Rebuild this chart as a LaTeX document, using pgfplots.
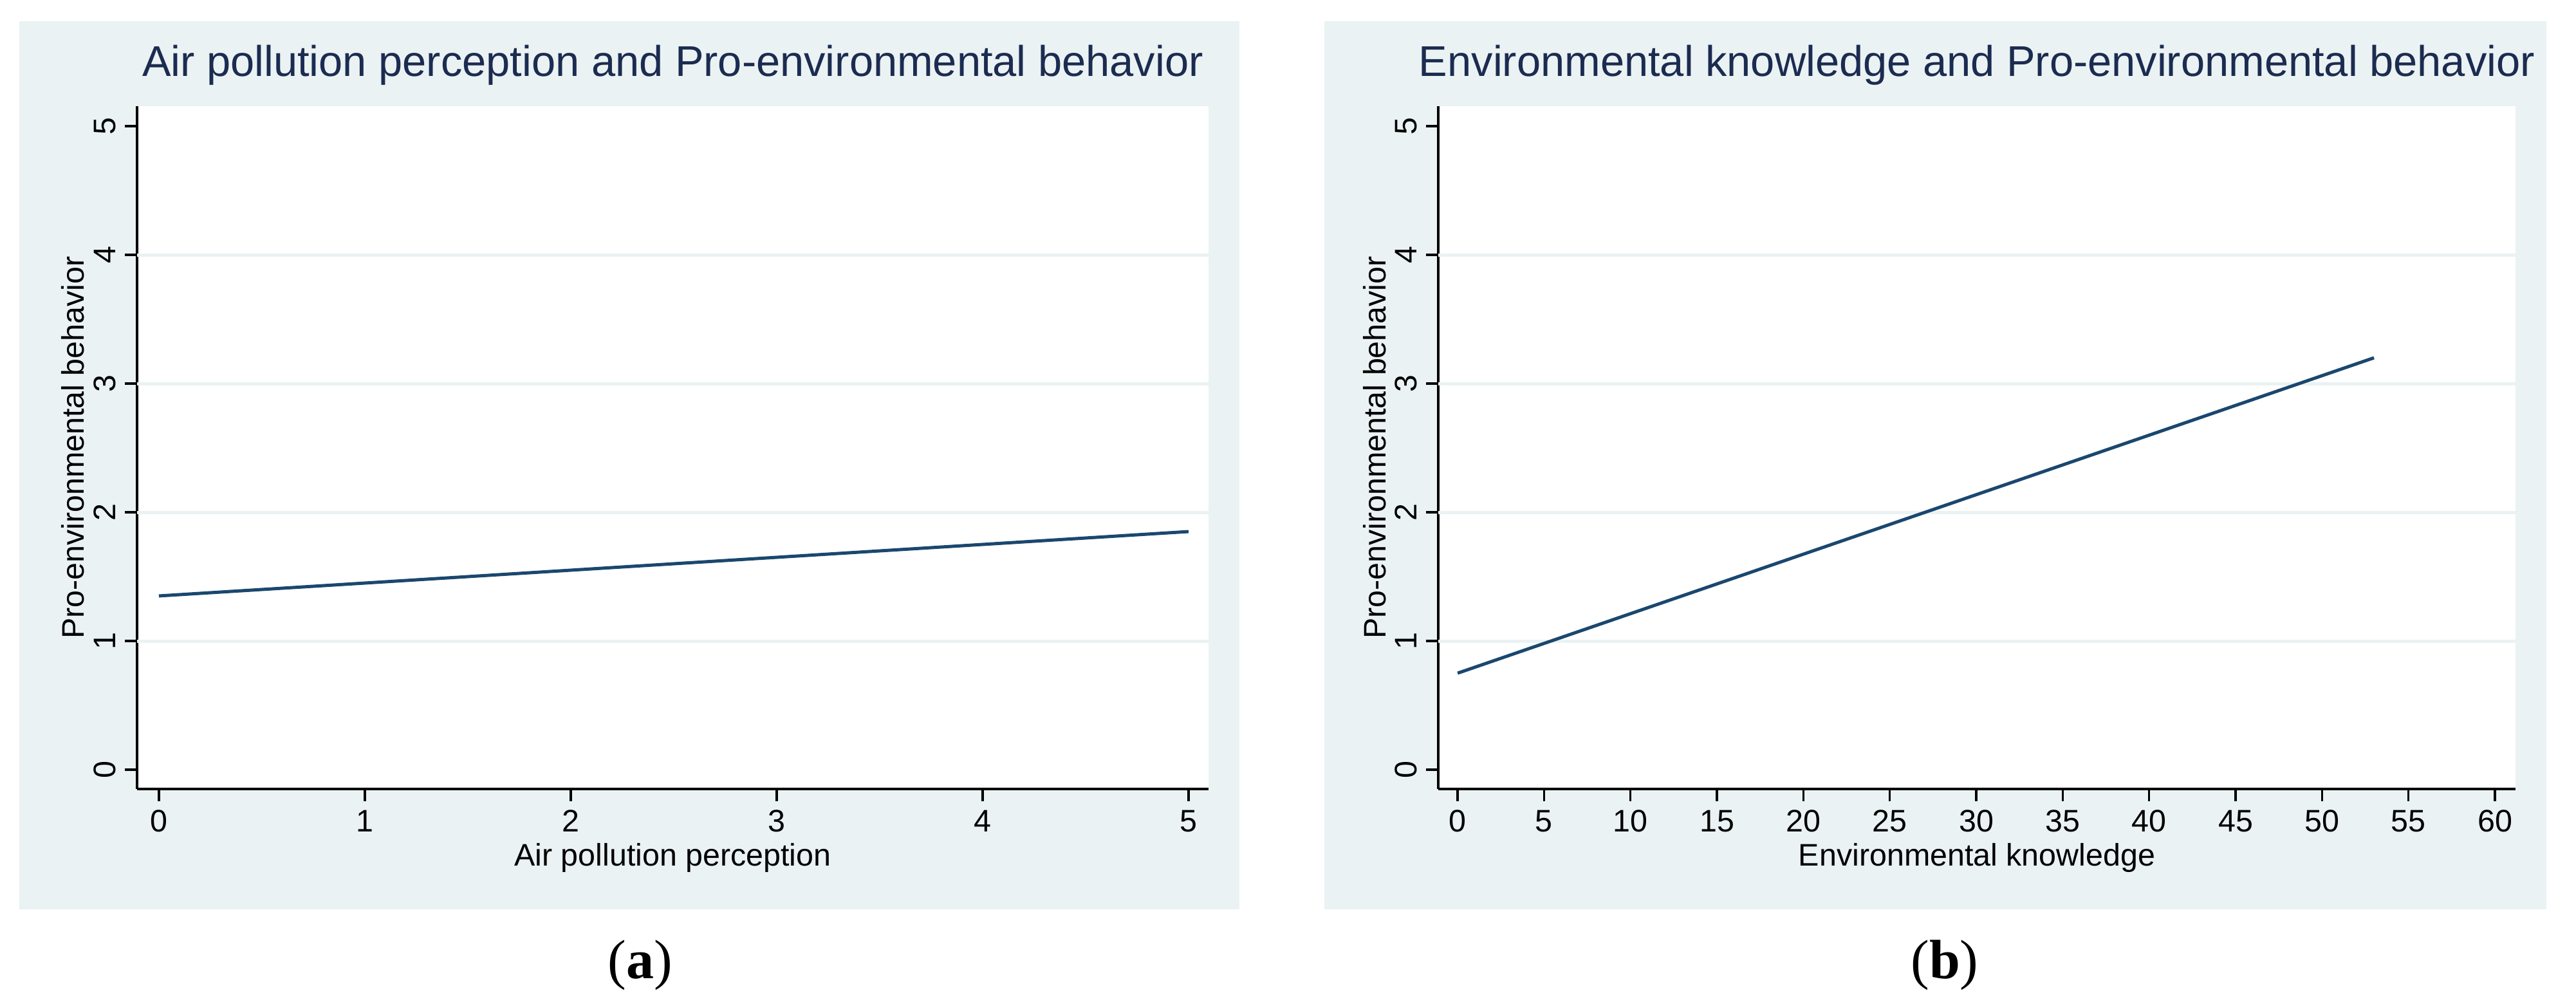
\documentclass[border=0pt]{standalone}
\usepackage{fontspec}
\setmainfont{Liberation Sans}
\newfontfamily\seriffont{Liberation Serif}
\usepackage{pgfplots}
\pgfplotsset{compat=1.18}
\definecolor{stbg}{HTML}{EAF2F3}
\definecolor{stnavy}{HTML}{1A476F}
\definecolor{sttitle}{HTML}{1C2B50}

\pgfplotsset{
  stata/.style={
    scale only axis,
    height=265.25pt,
    axis background/.style={fill=white},
    axis x line*=bottom, axis y line*=left,
    axis line style={line width=0.85pt, black},
    tick align=outside,
    major tick length=4.75pt,
    tick style={line width=0.85pt, black},
    ymin=-0.15, ymax=5.155,
    ytick={0,...,5},
    /pgf/number format/assume math mode=true,
    ticklabel style={font=\fontsize{12.1}{14}\selectfont},
    yticklabel style={rotate=90, anchor=south},
    extra y ticks={1,2,3,4},
    extra y tick labels={},
    extra y tick style={grid=major, major tick length=0pt},
    grid style={stbg, line width=1.25pt},
    title style={font=\fontsize{16.7}{20}\selectfont, color=sttitle,
                 at={(0.5,1)}, anchor=base, yshift=5.5pt},
    every axis x label/.style={at={(axis description cs:0.5,0)}, anchor=base,
                 yshift=-29.75pt, font=\fontsize{12.1}{14}\selectfont},
  }
}

\begin{document}
\begin{tikzpicture}
\useasboundingbox (0,0) rectangle (1000.75pt,389pt);
% panel backgrounds
\fill[stbg] (7.5pt,35.75pt) rectangle (481.5pt,380.75pt);
\fill[stbg] (514.5pt,35.75pt) rectangle (989.25pt,380.75pt);

% (a) air pollution perception
\begin{axis}[stata,
  at={(53.25pt,82.5pt)}, anchor=south west,
  width=416.25pt,
  xmin=-0.106, xmax=5.097,
  xtick={0,...,5},
  title={Air pollution perception and Pro-environmental behavior},
  xlabel={Air pollution perception},
  ylabel={Pro-environmental behavior},
  every axis y label/.style={at={(axis description cs:-0.0493,0.5)}, rotate=90,
                 anchor=base, font=\fontsize{12.1}{14}\selectfont},
]
\addplot[stnavy, line width=1.25pt] coordinates {(0,1.35) (5,1.85)};
\end{axis}

% (b) environmental knowledge
\begin{axis}[stata,
  at={(558.75pt,82.5pt)}, anchor=south west,
  width=418.5pt,
  xmin=-1.12, xmax=61.19,
  xtick={0,5,...,60},
  title={Environmental knowledge and Pro-environmental behavior},
  xlabel={Environmental knowledge},
  ylabel={Pro-environmental behavior},
  every axis y label/.style={at={(axis description cs:-0.049,0.5)}, rotate=90,
                 anchor=base, font=\fontsize{12.1}{14}\selectfont},
]
\addplot[stnavy, line width=1.25pt] coordinates {(0,0.75) (53,3.2)};
\end{axis}

\node[font=\seriffont\fontsize{21.5}{24}\selectfont, anchor=base] at (248.75pt,9pt) {(\textbf{a})};
\node[font=\seriffont\fontsize{21.5}{24}\selectfont, anchor=base] at (755.5pt,9pt) {(\textbf{b})};
\end{tikzpicture}
\end{document}
